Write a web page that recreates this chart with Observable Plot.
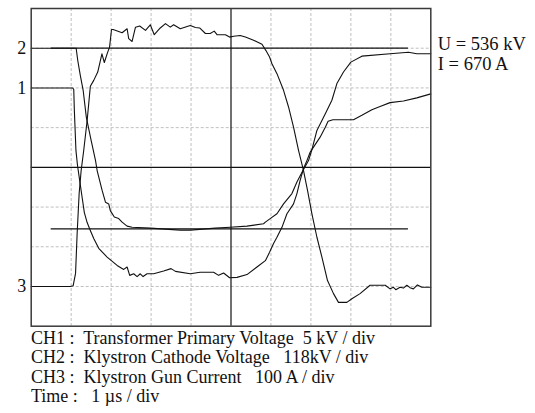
<!DOCTYPE html>
<html>
<head>
<meta charset="utf-8">
<script src="https://cdn.jsdelivr.net/npm/d3@7"></script>
<script src="https://cdn.jsdelivr.net/npm/@observablehq/plot@0.6"></script>
<style>
  html, body { margin: 0; padding: 0; background: white; }
  #caption { font-family: "Liberation Serif", "Times New Roman", serif; font-size: 18px; line-height: 19.3px; padding-left: 31px; margin-top: 1px; white-space: pre; color: #111; }
  svg { display: block; }
</style>
</head>
<body>
<div id="chart"></div>
<div id="caption"></div>
<script>
// time in µs (1 µs / div), value in screen divisions (0 = bottom, 8 = top)
const ch1T = [0, 1.04, 1.065, 1.08, 1.12, 1.16, 1.22, 1.275, 1.33, 1.40, 1.48, 1.565, 1.69, 1.90, 2.15, 2.315, 2.40, 2.465, 2.565, 2.65, 2.73, 2.80, 2.90, 3.065, 3.315, 3.50, 3.61, 3.98, 4.23, 4.565, 4.69, 4.815, 4.965, 5.15, 5.40, 5.65, 5.86, 5.965, 6.065, 6.15, 6.275, 6.40, 6.565, 6.65, 6.73, 6.815, 6.90, 6.98, 7.065, 7.23, 7.36, 7.43, 7.55, 8.065, 8.275, 8.525, 8.73, 8.98, 9.315, 9.65, 10];
const ch1V = [6.0, 6.0, 5.96, 5.43, 4.42, 4.04, 3.62, 3.24, 2.86, 2.61, 2.41, 2.21, 1.96, 1.74, 1.53, 1.43, 1.49, 1.28, 1.32, 1.25, 1.32, 1.25, 1.32, 1.32, 1.39, 1.45, 1.38, 1.32, 1.36, 1.36, 1.28, 1.34, 1.22, 1.23, 1.30, 1.49, 1.65, 1.86, 2.08, 2.24, 2.49, 2.83, 3.08, 3.34, 3.67, 3.97, 4.17, 4.38, 4.51, 4.76, 5.01, 5.16, 5.20, 5.20, 5.31, 5.45, 5.53, 5.63, 5.67, 5.75, 5.85];

const ch2T = [0, 1.125, 1.165, 1.23, 1.30, 1.38, 1.50, 1.61, 1.65, 1.775, 1.86, 1.94, 1.98, 2.08, 2.19, 2.275, 2.40, 2.525, 2.98, 3.73, 3.98, 4.61, 4.98, 5.40, 5.815, 5.86, 5.98, 6.15, 6.315, 6.525, 6.65, 6.80, 6.94, 7.02, 7.15, 7.36, 7.525, 7.65, 7.815, 8.00, 8.275, 8.98, 9.44, 9.65, 10];
const ch2V = [7.0, 7.0, 6.69, 6.31, 5.94, 5.26, 4.68, 4.17, 3.92, 3.42, 3.12, 3.08, 2.91, 2.75, 2.71, 2.62, 2.52, 2.49, 2.47, 2.42, 2.42, 2.47, 2.49, 2.52, 2.58, 2.62, 2.71, 2.83, 3.08, 3.34, 3.63, 3.92, 4.17, 4.43, 4.93, 5.35, 5.69, 6.11, 6.40, 6.65, 6.80, 6.86, 6.90, 6.86, 6.86];

const ch3T = [0, 0.98, 1.05, 1.11, 1.15, 1.20, 1.25, 1.315, 1.40, 1.48, 1.565, 1.665, 1.77, 1.83, 1.91, 1.96, 2.01, 2.05, 2.275, 2.40, 2.44, 2.525, 2.61, 2.715, 2.86, 2.98, 3.08, 3.23, 3.36, 3.48, 3.565, 3.73, 3.98, 4.11, 4.215, 4.36, 4.48, 4.58, 4.65, 4.86, 4.965, 5.065, 5.23, 5.36, 5.565, 5.775, 5.875, 5.965, 6.025, 6.15, 6.315, 6.44, 6.565, 6.69, 6.815, 6.915, 7.025, 7.15, 7.275, 7.415, 7.565, 7.69, 7.90, 8.025, 8.23, 8.48, 8.86, 8.98, 9.065, 9.125, 9.23, 9.315, 9.40, 9.48, 9.565, 9.665, 9.775, 10];
const ch3V = [1.0, 1.0, 1.02, 1.33, 2.34, 3.34, 3.92, 4.43, 5.18, 6.04, 6.19, 6.40, 6.86, 6.64, 6.89, 7.02, 7.47, 7.47, 7.39, 7.49, 7.24, 7.17, 7.53, 7.56, 7.45, 7.59, 7.34, 7.51, 7.62, 7.53, 7.59, 7.49, 7.57, 7.52, 7.51, 7.37, 7.37, 7.43, 7.34, 7.34, 7.28, 7.30, 7.32, 7.28, 7.20, 7.10, 6.94, 6.78, 6.61, 6.36, 5.94, 5.52, 5.01, 4.43, 3.92, 3.42, 2.83, 2.24, 1.74, 1.15, 0.82, 0.60, 0.60, 0.69, 0.82, 1.03, 1.03, 0.94, 0.98, 0.92, 0.98, 0.96, 1.03, 0.97, 0.94, 1.04, 0.98, 0.98];

const gridT = [1, 2, 3, 4, 6, 7, 8, 9];
const gridV = [1, 2, 3, 5, 6, 7];
const centerT = [5];
const centerV = [4];
const refLevels = [7, 2.45];
const refStart = 0.5, refEnd = 9.44;
const channelMarks = ["2", "1", "3"];
const channelLevels = [7, 6, 1];
const infoU = "U = 536 kV";
const infoI = "I = 670 A";
const captionLines = [
  "CH1 :  Transformer Primary Voltage  5 kV / div",
  "CH2 :  Klystron Cathode Voltage   118kV / div",
  "CH3 :  Klystron Gun Current   100 A / div",
  "Time :   1 \u00b5s / div"
];

const toRows = (T, V) => T.map((t, i) => ({t, v: V[i]}));
const ch1 = toRows(ch1T, ch1V);
const ch2 = toRows(ch2T, ch2V);
const ch3 = toRows(ch3T, ch3V);
const markRows = channelMarks.map((s, i) => ({s, v: channelLevels[i]}));

const plot = Plot.plot({
  width: 535,
  height: 328,
  marginLeft: 30.7,
  marginRight: 104.7,
  marginTop: 8,
  marginBottom: 2.3,
  x: {domain: [0, 10], axis: null},
  y: {domain: [0, 8], axis: null},
  style: {fontFamily: "Liberation Serif", background: "white", overflow: "visible"},
  marks: [
    Plot.ruleX(gridT, {x: d => d, stroke: "#b8b8b8", strokeWidth: 0.9, strokeDasharray: "3,2"}),
    Plot.ruleY(gridV, {y: d => d, stroke: "#b8b8b8", strokeWidth: 0.9, strokeDasharray: "3,2"}),
    Plot.ruleX(centerT, {x: d => d, stroke: "#111", strokeWidth: 1.2}),
    Plot.ruleY(centerV, {y: d => d, stroke: "#111", strokeWidth: 1.2}),
    Plot.ruleY(refLevels, {y: d => d, x1: () => refStart, x2: () => refEnd, stroke: "#111", strokeWidth: 1.2}),
    Plot.line(ch1, {x: "t", y: "v", stroke: "#111", strokeWidth: 1.1}),
    Plot.line(ch2, {x: "t", y: "v", stroke: "#111", strokeWidth: 1.1}),
    Plot.line(ch3, {x: "t", y: "v", stroke: "#111", strokeWidth: 1.1}),
    Plot.frame({stroke: "#3a3a3a", strokeWidth: 1.5}),
    Plot.text(markRows, {x: () => 0, y: "v", text: "s", dx: -5, textAnchor: "end", fontSize: 18, fill: "#111"}),
    Plot.text([infoU], {x: () => 10, y: () => 7, text: d => d, dx: 7, dy: -4.5, textAnchor: "start", fontSize: 18.5, fill: "#111"}),
    Plot.text([infoI], {x: () => 10, y: () => 7, text: d => d, dx: 7, dy: 15.5, textAnchor: "start", fontSize: 18.5, fill: "#111"})
  ]
});
document.getElementById("chart").append(plot);
document.getElementById("caption").textContent = captionLines.join("\n");
</script>
</body>
</html>
